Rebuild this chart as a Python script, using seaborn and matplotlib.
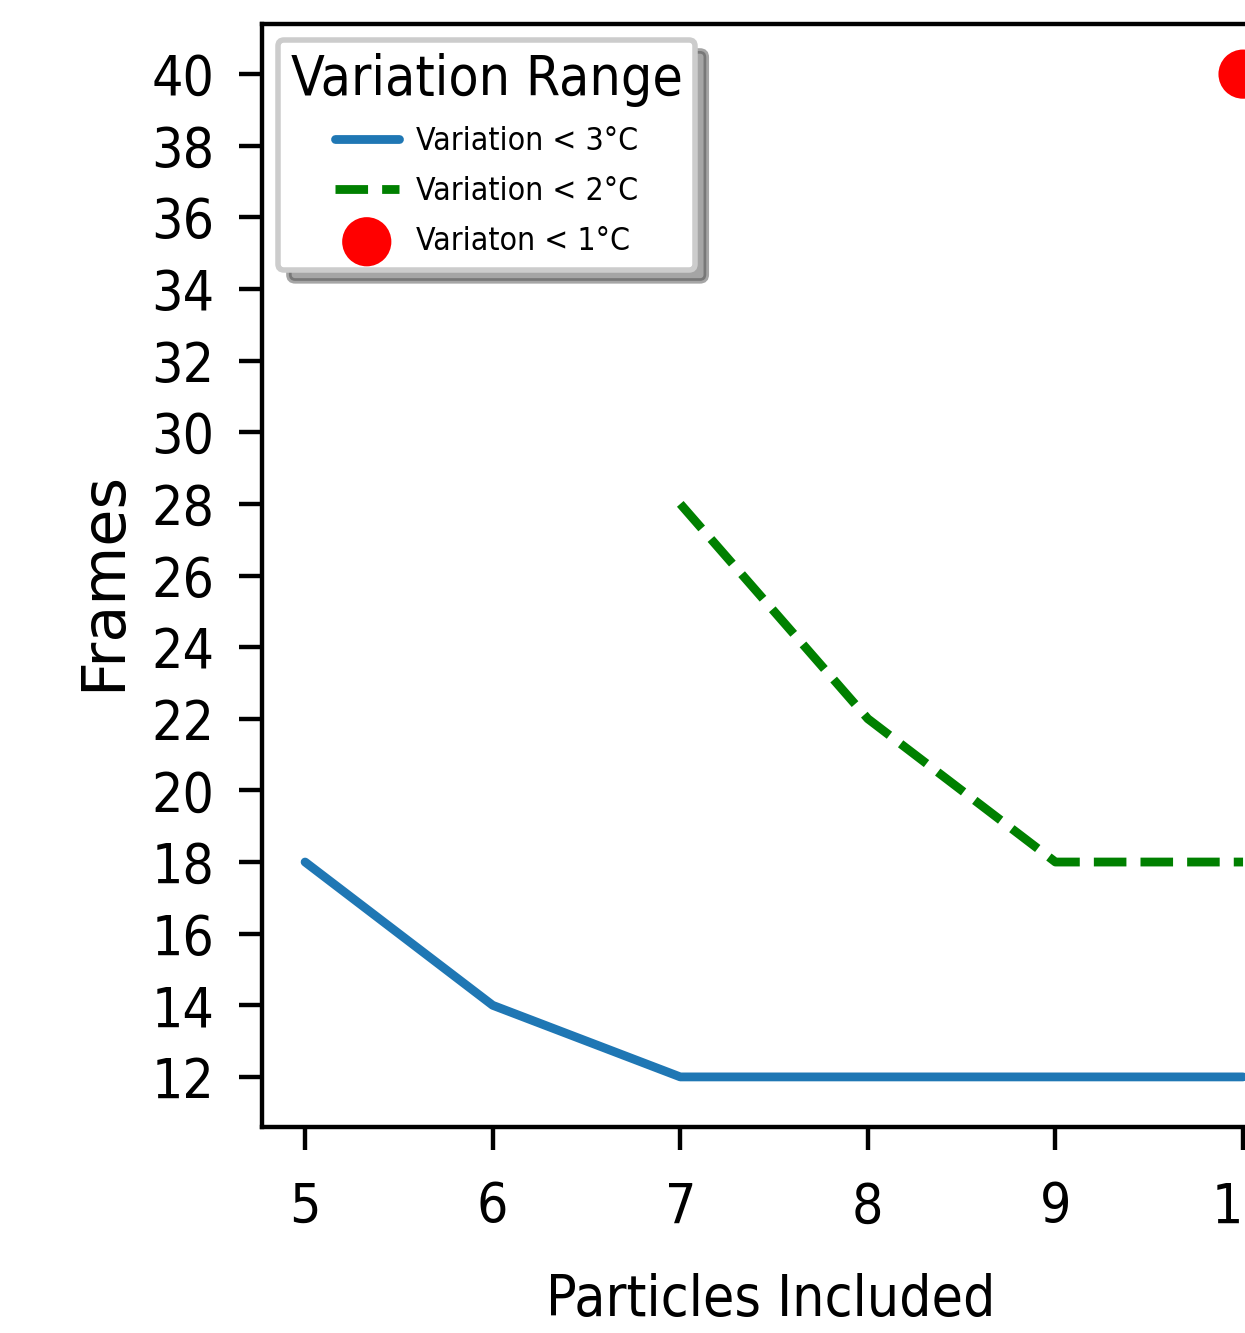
import matplotlib
matplotlib.use("Agg")
import matplotlib.pyplot as plt
import seaborn as sns

# ---- data ----
particles = [5, 6, 7, 8, 9, 10]
frames_3c = [18, 14, 12, 12, 12, 12]
particles_2c = [7, 8, 9, 10]
frames_2c = [28, 22, 18, 18]
particles_1c = [10]
frames_1c = [40]
y_ticks = list(range(12, 41, 2))
x_ticks = [5, 6, 7, 8, 9, 10]
labels = ["Variation < 3°C", "Variation < 2°C", "Variaton < 1°C"]

sns.set_style("ticks", rc={"axes.edgecolor": "black", "xtick.color": "black",
                           "ytick.color": "black", "text.color": "black",
                           "axes.labelcolor": "black"})
plt.rcParams["font.family"] = ["DejaVu Sans"]
plt.rcParams["font.stretch"] = "condensed"

DPI = 396
fig = plt.figure(figsize=(1245 / DPI, 1333 / DPI), dpi=DPI)
fig.patch.set_facecolor("white")
ax = fig.add_axes([0.2104, 0.1545, 0.8257, 0.8275])

sns.lineplot(x=particles, y=frames_3c, ax=ax, color="#1f77b4", linewidth=1.6,
             label=labels[0])
sns.lineplot(x=particles_2c, y=frames_2c, ax=ax, color="green", linewidth=1.6,
             linestyle="--", label=labels[1])
sns.scatterplot(x=particles_1c, y=frames_1c, ax=ax, color="red", s=80,
                edgecolor="none", label=labels[2])

ax.set_xlim(4.77, 10.25)
ax.set_ylim(10.6, 41.4)
ax.set_xticks(x_ticks)
ax.set_yticks(y_ticks)
ax.tick_params(axis="both", labelsize=10, length=4.1, width=0.8)
ax.tick_params(axis="x", pad=5.6)
ax.tick_params(axis="y", pad=4.5)
for s in ax.spines.values():
    s.set_linewidth(0.8)
    s.set_color("black")

ax.set_xlabel("Particles Included", fontsize=10.3)
ax.set_ylabel("Frames", fontsize=11, fontstretch="normal")
ax.xaxis.set_label_coords(0.495, -0.1325)
ax.yaxis.set_label_coords(-0.1258, 0.4955)

handles, _ = ax.get_legend_handles_labels()
leg = ax.legend(handles=handles, labels=labels, title="Variation Range",
                loc="upper left", fontsize=5.8, title_fontsize=10,
                labelspacing=0.6, handletextpad=0.55,
                shadow=True, frameon=True)

fig.savefig("out.png", dpi=DPI, facecolor="white")
